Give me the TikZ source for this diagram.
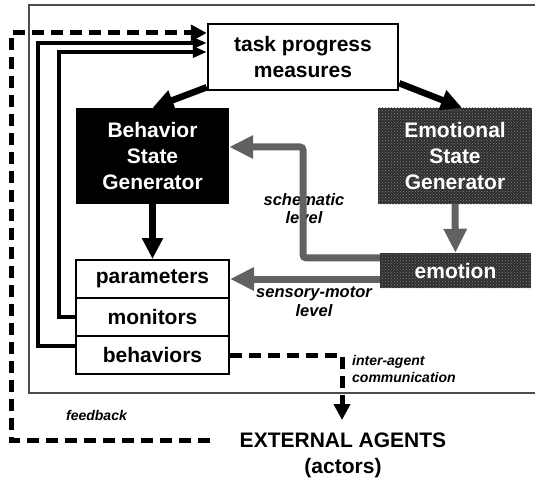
\documentclass[tikz,border=0pt]{standalone}
\usepackage{fontspec}
\setmainfont{Liberation Sans}
\usetikzlibrary{arrows.meta,patterns,calc}

\begin{document}
\begin{tikzpicture}[x=1pt,y=-1pt,
  bigfont/.style={font=\fontsize{21}{26}\selectfont\bfseries},
  labelfont/.style={font=\fontsize{16.5}{18.5}\selectfont\bfseries\itshape},
  smallfont/.style={font=\fontsize{14}{17}\selectfont\bfseries\itshape},
  plainbox/.style={draw, line width=2.5pt, fill=white, bigfont, align=center, inner sep=0pt},
  solidbox/.style={fill=black, text=white, bigfont, align=center, inner sep=0pt,
    minimum width=153pt, minimum height=96pt},
  halftone/.style={fill=black!82, postaction={pattern=crosshatch dots, pattern color=black!50}},
  halfbox/.style={halftone, text=white, bigfont, align=center, inner sep=0pt,
    minimum width=154pt, minimum height=96pt},
  rowbox/.style={draw, line width=2pt, fill=white, bigfont, inner sep=0pt,
    minimum width=153pt, minimum height=38pt},
  heavyarrow/.style={line width=6.5pt, -{Triangle[length=21pt,width=20pt]}},
  greyarrow/.style={draw=black!62, line width=7pt, rounded corners=3pt,
    -{Triangle[length=24pt,width=22pt]}},
  fbline/.style={line width=3.5pt, -{Triangle[length=14pt,width=11pt]}},
  dashline/.style={line width=5pt, dash pattern=on 12pt off 7pt,
    -{Triangle[length=16pt,width=16pt]}}
]
\useasboundingbox (0,0) rectangle (535,481);

% frame around the agent (open on the right)
\draw[black!70, line width=1.5pt] (535,5) -- (29,5) -- (29,393) -- (535,393);

% boxes
\node[plainbox, minimum width=190pt, minimum height=66pt] (task) at (303,57) {task progress\\measures};
\node[solidbox] (bsg) at (152.5,156) {Behavior\\State\\Generator};
\node[halfbox] (esg) at (455,156) {Emotional\\State\\Generator};
\node[rowbox] (params) at (152.5,279) {parameters};
\node[rowbox] (monitors) at (152.5,317) {monitors};
\node[rowbox] (behaviors) at (152.5,355) {behaviors};
\node[halfbox, minimum width=151pt, minimum height=35pt] (emotion) at (455.5,270.5) {emotion};
\node[bigfont, align=center, anchor=north, inner sep=0pt] (ext) at (343,433) {EXTERNAL AGENTS\\(actors)};

% labels
\node[labelfont, align=center, anchor=north, inner sep=0pt] (schem) at (304,193) {schematic\\level};
\node[labelfont, align=center, anchor=north, inner sep=0pt] (senso) at (314,287) {sensory-motor\\level};
\node[smallfont, align=left, anchor=north west, inner sep=0pt] (inter) at (352,355) {inter-agent\\communication};
\node[smallfont, anchor=base, inner sep=0pt] (fblabel) at (96.5,420) {feedback};

% task progress drives both generators
\draw[heavyarrow] ($(task.south west)+(0,-4)$) -- (bsg.north);
\draw[heavyarrow] ($(task.south east)+(0,-8)$) -- ($(esg.north)+(7,0)$);
\draw[heavyarrow] (bsg.south) -- (params.north);

% emotional pathway
\draw[greyarrow] (esg.south) -- (emotion.north);
\coordinate (schcorner) at (303,147);
\draw[greyarrow] ($(emotion.north west)+(0,5)$) -| (schcorner) -- (bsg.east |- schcorner);
\draw[greyarrow] (emotion.west |- params) -- (params.east);

% internal feedback from monitors and behaviors
\coordinate (fbA) at (38,43);
\coordinate (fbB) at (59,52);
\draw[fbline] ($(behaviors.west)+(0,-9)$) -| (fbA) -- (task.west |- fbA);
\draw[fbline] (monitors.west) -| (fbB) -- (task.west |- fbB);

% external feedback loop
\coordinate (extout) at (210,440);
\coordinate (fbC) at (11,33);
\draw[dashline] (extout) -| (fbC) -- (task.west |- fbC);

% inter-agent communication
\coordinate (comm) at (342,420);
\draw[dashline] (behaviors.east) -| (comm);
\end{tikzpicture}
\end{document}
